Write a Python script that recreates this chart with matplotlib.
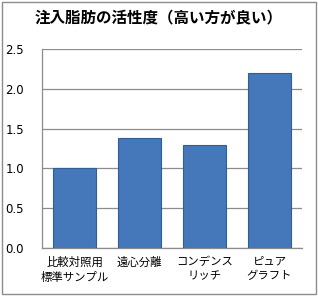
import matplotlib
matplotlib.use("Agg")
import matplotlib.pyplot as plt
from matplotlib.patches import Rectangle

plt.rcParams['font.family'] = ['Noto Sans CJK JP', 'DejaVu Sans']

title = "注入脂肪の活性度（高い方が良い）"
categories = ["比較対照用\n標準サンプル", "遠心分離", "コンデンス\nリッチ", "ピュア\nグラフト"]
values = [1.0, 1.38, 1.3, 2.2]
yticks = [0.0, 0.5, 1.0, 1.5, 2.0, 2.5]
ytick_labels = ["0.0", "0.5", "1.0", "1.5", "2.0", "2.5"]

W, H = 318, 296
fig = plt.figure(figsize=(W/100, H/100), dpi=100)
fig.patch.set_facecolor('white')
fig.add_artist(Rectangle((2/W, 2/H), 314/W, 292/H, transform=fig.transFigure,
                         fill=False, edgecolor='#8c8c8c', linewidth=1.0))

ax = fig.add_axes([42/W, 1-248/H, 260/W, 199/H])
x = list(range(len(categories)))
ax.bar(x, values, width=0.66, color='#4478BA', edgecolor='#2F5F95', linewidth=0.8, zorder=3)
ax.set_xlim(-0.5, len(categories)-0.5)
ax.set_ylim(0, 2.5)
ax.set_yticks(yticks)
ax.set_yticklabels(ytick_labels, fontsize=8.5, family='DejaVu Sans')
ax.set_xticks(x)
ax.set_xticklabels(categories, fontsize=8.2, linespacing=1.55)
ax.tick_params(axis='y', length=0, pad=13)
ax.tick_params(axis='x', length=0, pad=6)
ax.grid(axis='y', color='#8c8c8c', linewidth=0.9, zorder=0)
for s in ['top', 'right']:
    ax.spines[s].set_visible(False)
for s in ['left', 'bottom']:
    ax.spines[s].set_color('#8c8c8c')
    ax.spines[s].set_linewidth(0.9)

fig.text(0.5, 1-18/H, title, ha='center', va='center', fontsize=11.2, fontweight='bold')

fig.savefig('out.png', dpi=100)
